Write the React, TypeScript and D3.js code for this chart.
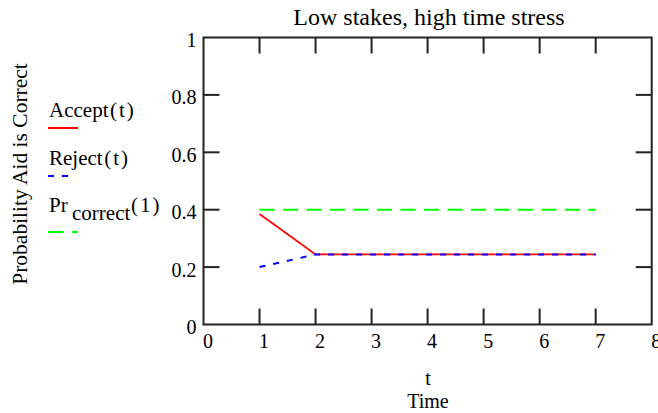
import React from "react";
import * as d3 from "d3";

const tValues = [1, 2, 3, 4, 5, 6, 7];
const acceptValues = [0.385, 0.244, 0.244, 0.244, 0.244, 0.244, 0.244];
const rejectValues = [0.2, 0.244, 0.244, 0.244, 0.244, 0.244, 0.244];
const prCorrectValues = [0.4, 0.4, 0.4, 0.4, 0.4, 0.4, 0.4];
const xTicks = [0, 1, 2, 3, 4, 5, 6, 7, 8];
const yTicks = [0, 0.2, 0.4, 0.6, 0.8, 1];
const yTickLabels = ["0", "0.2", "0.4", "0.6", "0.8", "1"];

const W = 658;
const H = 413;
const left = 203.5;
const right = 651.7;
const top = 37.5;
const bottom = 324.5;
const font = "'Liberation Serif', 'Times New Roman', serif";
const axisColor = "#222";

export default function App() {
  const x = d3.scaleLinear().domain([0, 8]).range([left, right]);
  const y = d3.scaleLinear().domain([0, 1]).range([bottom, top]);
  const line = d3
    .line<number>()
    .x((_, i) => x(tValues[i]))
    .y((d) => y(d));
  const tickLen = 16;

  return (
    <svg
      width={W}
      height={H}
      style={{ position: "absolute", left: 0, top: 0, background: "#fff" }}
      fontFamily={font}
    >
      <rect x={0} y={0} width={W} height={H} fill="#fff" />
      {/* title */}
      <text x={429} y={25} fontSize={24} textAnchor="middle" fill="#000">
        Low stakes, high time stress
      </text>

      {/* series */}
      <path d={line(prCorrectValues) || ""} fill="none" stroke="#00ff00" strokeWidth={2} strokeDasharray="15,8.5" />
      <path d={line(acceptValues) || ""} fill="none" stroke="#ff0000" strokeWidth={1.8} />
      <path d={line(rejectValues) || ""} fill="none" stroke="#0000ff" strokeWidth={2} strokeDasharray="6,8" />

      {/* ticks */}
      {xTicks.filter((v) => v > 0 && v < 8).map((v) => (
        <g key={"xt" + v}>
          <line x1={x(v)} x2={x(v)} y1={bottom} y2={bottom - tickLen} stroke={axisColor} strokeWidth={2} />
          <line x1={x(v)} x2={x(v)} y1={top} y2={top + tickLen} stroke={axisColor} strokeWidth={2} />
        </g>
      ))}
      {yTicks.filter((v) => v > 0 && v < 1).map((v) => (
        <g key={"yt" + v}>
          <line x1={left} x2={left + tickLen} y1={y(v)} y2={y(v)} stroke={axisColor} strokeWidth={2} />
          <line x1={right} x2={right - tickLen} y1={y(v)} y2={y(v)} stroke={axisColor} strokeWidth={2} />
        </g>
      ))}
      {/* frame */}
      <rect x={left} y={top} width={right - left} height={bottom - top} fill="none" stroke={axisColor} strokeWidth={2} />

      {/* tick labels */}
      {xTicks.map((v) => (
        <text key={"xl" + v} x={x(v) - 0.5} y={348} fontSize={20} fill="#000">
          {v}
        </text>
      ))}
      {yTicks.map((v, i) => (
        <text key={"yl" + v} x={196.5} y={y(v) + 9.5} fontSize={20} textAnchor="end" fill="#000">
          {yTickLabels[i]}
        </text>
      ))}

      {/* axis titles */}
      <text x={428} y={385} fontSize={20} textAnchor="middle" fill="#000">t</text>
      <text x={428} y={408} fontSize={20} textAnchor="middle" fill="#000">Time</text>
      <text
        transform={`translate(27,174) rotate(-90)`}
        fontSize={21.5}
        textAnchor="middle"
        fill="#000"
      >
        Probability Aid is Correct
      </text>

      {/* legend */}
      <text x={49} y={117} fontSize={21} fill="#000">
        Accept<tspan dx={1.5}>(</tspan><tspan dx={2}>t</tspan><tspan dx={2}>)</tspan>
      </text>
      <line x1={48} x2={78} y1={128} y2={128} stroke="#ff0000" strokeWidth={2} />
      <text x={49} y={165} fontSize={21} fill="#000">
        Reject<tspan dx={1.5}>(</tspan><tspan dx={2}>t</tspan><tspan dx={2}>)</tspan>
      </text>
      <line x1={48} x2={69} y1={176} y2={176} stroke="#0000ff" strokeWidth={2} strokeDasharray="6,8" />
      <text x={49} y={212} fontSize={21} fill="#000">
        Pr
        <tspan x={72} y={220}>correct</tspan>
        <tspan x={131} y={212}>(</tspan><tspan dx={2}>1</tspan><tspan dx={2}>)</tspan>
      </text>
      <line x1={48} x2={78} y1={232} y2={232} stroke="#00ff00" strokeWidth={2} strokeDasharray="15,9" />
    </svg>
  );
}
